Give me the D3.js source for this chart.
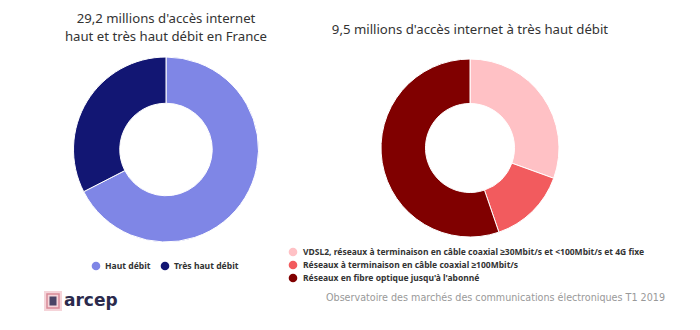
<!DOCTYPE html>
<html><head><meta charset="utf-8">
<script src="https://cdn.jsdelivr.net/npm/d3@7"></script>
<style>body{margin:0;background:#fff}svg{display:block}</style>
</head><body>
<svg id="c" width="700" height="330"></svg>
<script>
const leftCategories = ["Haut débit", "Très haut débit"];
const leftValues = [19.7, 9.5];
const leftColors = ["#7f86e6", "#121673"];
const leftTitle = ["29,2 millions d'accès internet", "haut et très haut débit en France"];

const rightCategories = [
  "VDSL2, réseaux à terminaison en câble coaxial ≥30Mbit/s et <100Mbit/s et 4G fixe",
  "Réseaux à terminaison en câble coaxial ≥100Mbit/s",
  "Réseaux en fibre optique jusqu'à l'abonné"
];
const rightValues = [2.9, 1.35, 5.25];
const rightColors = ["#ffc1c5", "#f25b5e", "#800000"];
const rightTitle = ["9,5 millions d'accès internet à très haut débit"];

const footer = "Observatoire des marchés des communications électroniques T1 2019";

const svg = d3.select("#c");
const font = "'DejaVu Sans', sans-serif";
const font2 = "'Noto Sans', sans-serif";

function donut(cx, cy, r, values, colors) {
  const pie = d3.pie().sort(null).value(d => d)(values);
  const arc = d3.arc().innerRadius(r * 0.5).outerRadius(r);
  svg.append("g").attr("transform", `translate(${cx},${cy})`)
    .selectAll("path").data(pie).join("path")
    .attr("d", arc).attr("fill", (d, i) => colors[i])
    .attr("stroke", "#fff").attr("stroke-width", 1);
}
donut(166, 149.5, 92.5, leftValues, leftColors);
donut(470, 148, 89, rightValues, rightColors);

svg.append("g").selectAll("text").data(leftTitle).join("text")
  .attr("x", 166).attr("y", (d, i) => 23 + i * 17.5)
  .attr("text-anchor", "middle").attr("font-family", font2).attr("font-size", 13.2)
  .attr("fill", "#333").text(d => d);
svg.append("g").selectAll("text").data(rightTitle).join("text")
  .attr("x", 470).attr("y", 34)
  .attr("text-anchor", "middle").attr("font-family", font2).attr("font-size", 13.2)
  .attr("fill", "#333").text(d => d);

// left legend
const lx = [96, 165];
const lg = svg.append("g").selectAll("g").data(leftCategories).join("g")
  .attr("transform", (d, i) => `translate(${lx[i]},266)`);
lg.append("circle").attr("r", 4.3).attr("fill", (d, i) => leftColors[i]);
lg.append("text").attr("x", 9).attr("y", 3.3).attr("font-family", font2)
  .attr("font-size", 8.6).attr("font-weight", "bold").attr("fill", "#333").text(d => d);

// right legend
const rg = svg.append("g").selectAll("g").data(rightCategories).join("g")
  .attr("transform", (d, i) => `translate(293,${252 + i * 13})`);
rg.append("circle").attr("r", 4.3).attr("fill", (d, i) => rightColors[i]);
rg.append("text").attr("x", 10).attr("y", 3.3).attr("font-family", font2)
  .attr("font-size", 8.5).attr("font-weight", "bold").attr("fill", "#333").text(d => d);

// footer
svg.append("text").attr("x", 665).attr("y", 301).attr("text-anchor", "end")
  .attr("font-family", font).attr("font-size", 9.6).attr("fill", "#999").text(footer);

// logo
const logo = svg.append("g").attr("transform", "translate(53,301)");
logo.append("rect").attr("x", -9).attr("y", -10).attr("width", 18).attr("height", 20)
  .attr("fill", "#f3c9cf").attr("opacity", 0.8);
logo.append("rect").attr("x", -6).attr("y", -7).attr("width", 12).attr("height", 14)
  .attr("fill", "none").attr("stroke", "#d88a98").attr("stroke-width", 1.5);
logo.append("rect").attr("x", -3.5).attr("y", -4.5).attr("width", 7).attr("height", 9)
  .attr("fill", "#4a4466");
svg.append("text").attr("x", 64).attr("y", 306).attr("font-family", font)
  .attr("font-size", 17).attr("font-weight", "bold").attr("fill", "#2b2a4c").text("arcep");
</script>
</body></html>
